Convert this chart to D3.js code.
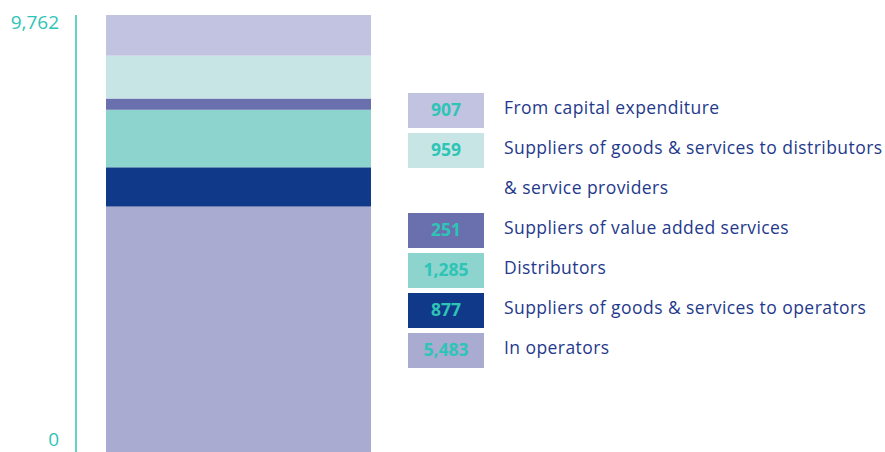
<!DOCTYPE html>
<html>
<head>
<meta charset="utf-8">
<script src="https://cdn.jsdelivr.net/npm/d3@7"></script>
<style>
  body { margin: 0; background: #fff; }
  svg { display: block; }
</style>
</head>
<body>
<div id="chart"></div>
<script>
// stacked from bottom to top
const categories = ["In operators", "Suppliers of goods & services to operators", "Distributors",
                    "Suppliers of value added services", "Suppliers of goods & services to distributors & service providers",
                    "From capital expenditure"];
const values = [5483, 877, 1285, 251, 959, 907];
const colors = ["#a9abd1", "#11398a", "#8dd3ce", "#6a70ae", "#c6e5e4", "#c2c3e0"];
const axisTicks = [0, 9762];
// legend order, top to bottom (the long one wraps on two lines)
const legendOrder = [5, 4, 3, 2, 1, 0];
const legendLines = {4: ["Suppliers of goods & services to distributors", "& service providers"]};

const width = 885, height = 452;
const margin = {top: 15, bottom: 0};
const teal = "#2ec4b6";
const navy = "#1f3a8c";

const svg = d3.select("#chart").append("svg")
    .attr("width", width)
    .attr("height", height);

let y = d3.scaleLinear()
    .domain([0, d3.sum(values)])
    .range([height - margin.bottom, margin.top]);

let stacked = [];
let acc = 0;
values.forEach((v, i) => {
  stacked.push({i: i, y0: acc, y1: acc + v});
  acc += v;
});

// axis
svg.append("line")
    .attr("x1", 76).attr("x2", 76)
    .attr("y1", y(axisTicks[1])).attr("y2", y(axisTicks[0]))
    .attr("stroke", teal)
    .attr("stroke-width", 1.5);

svg.selectAll(".tick")
    .data(axisTicks)
    .enter().append("text")
    .attr("class", "tick")
    .attr("x", 59)
    .attr("y", d => d === 0 ? y(d) - 6 : y(d) + 14)
    .attr("text-anchor", "end")
    .style("font", "19px 'Open Sans', sans-serif")
    .attr("fill", teal)
    .text(d => d3.format(",")(d));

// bar
svg.selectAll(".seg")
    .data(stacked)
    .enter().append("rect")
    .attr("class", "seg")
    .attr("x", 106)
    .attr("width", 265)
    .attr("y", d => y(d.y1))
    .attr("height", d => y(d.y0) - y(d.y1))
    .attr("fill", d => colors[d.i]);

// legend
let row = 0;
legendOrder.forEach(i => {
  let cy = 110 + row * 40;
  let g = svg.append("g");
  g.append("rect")
      .attr("x", 408).attr("y", cy - 17)
      .attr("width", 76).attr("height", 35)
      .attr("fill", colors[i]);
  g.append("text")
      .attr("x", 446).attr("y", cy + 6)
      .attr("text-anchor", "middle")
      .style("font", "bold 17.5px 'Open Sans', sans-serif")
      .attr("fill", teal)
      .text(d3.format(",")(values[i]));
  let lines = legendLines[i] || [categories[i]];
  lines.forEach((t, k) => {
    g.append("text")
        .attr("x", 504).attr("y", cy + 4 + k * 40)
        .style("font", "17.5px 'Open Sans', sans-serif")
        .style("letter-spacing", "0.44px")
        .attr("fill", navy)
        .text(t);
  });
  row += lines.length;
});
</script>
</body>
</html>
